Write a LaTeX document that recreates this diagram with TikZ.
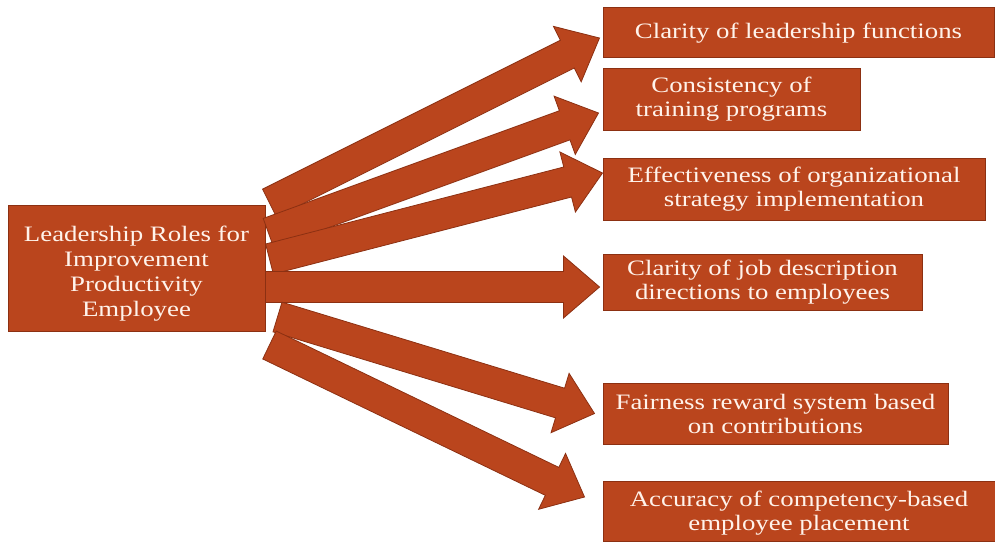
\documentclass[tikz,border=0pt]{standalone}
\usepackage{fontspec}
\setmainfont[FakeStretch=1.22]{Liberation Serif}
\usepackage{tikz}
\usepackage{xcolor}
\usetikzlibrary{calc,positioning}
\definecolor{rust}{RGB}{186, 69, 29}
\definecolor{rustdark}{RGB}{140, 48, 18}
\definecolor{cream}{RGB}{255, 243, 235}
\tikzstyle{role} = [
    rectangle,
    inner sep=0pt,
    align=center,
    draw=rustdark,
    line width=0.5pt,
    fill=rust,
    text=cream,
    font=\fontsize{11}{12}\selectfont
]
\tikzstyle{blockarrow} = [
    fill=rust,
    draw=rustdark,
    line width=0.4pt,
    line join=miter
]
% block arrow from #1 (tail) to #2 (tip)
\newcommand{\blockarrow}[2]{%
    \path ($(#2)!18pt!(#1)$) coordinate (hb);
    \draw[blockarrow] ($(#1)!7.75pt!90:(#2)$) -- ($(hb)!7.75pt!90:(#2)$)
        -- ($(hb)!15.5pt!90:(#2)$) -- (#2) -- ($(hb)!15.5pt!-90:(#2)$)
        -- ($(hb)!7.75pt!-90:(#2)$) -- ($(#1)!7.75pt!-90:(#2)$) -- cycle;}

\begin{document}
\begin{tikzpicture}[x=0.5pt, y=-0.5pt]
    \useasboundingbox[fill=white] (0,0) rectangle (995,541);

    \node[role, minimum width=128.5pt, minimum height=63pt,
        font=\fontsize{11}{12.5}\selectfont] (lead) at (136.5,268)
        {\rule{0pt}{13pt}Leadership Roles for\\Improvement\\Productivity\\Employee};

    \node[role, minimum width=195.5pt, minimum height=25pt] (clar) at (798.5,32)
        {\rule{0pt}{9pt}Clarity of leadership functions};
    \node[role, minimum width=128.5pt, minimum height=31pt] (cons) at (731.5,99)
        {Consistency of\\training programs};
    \node[role, minimum width=191pt, minimum height=31pt] (eff) at (794,189)
        {Effectiveness of organizational\\strategy implementation};
    \node[role, minimum width=159.5pt, minimum height=28pt] (job) at (762.5,282)
        {Clarity of job description\\directions to employees};
    \node[role, minimum width=172.5pt, minimum height=30.5pt] (fair) at (775.5,413.5)
        {Fairness reward system based\\on contributions};
    \node[role, minimum width=196pt, minimum height=30pt] (acc) at (799,511)
        {\rule{0pt}{10pt}Accuracy of competency-based\\employee placement};

    % tails and tips of the arrows
    \coordinate (s1) at ($(lead.east)+(4,-65)$);
    \coordinate (s2) at ($(lead.east)+(3,-35)$);
    \coordinate (s3) at ($(lead.east)+(4,-9)$);
    \coordinate (s4) at ($(lead.east)+(0,19)$);
    \coordinate (s5) at ($(lead.east)+(12,49)$);
    \coordinate (s6) at ($(lead.east)+(4,77)$);
    \coordinate (t1) at ($(clar.west)+(-3,6)$);
    \coordinate (t2) at ($(cons.west)+(-4,14)$);
    \coordinate (t3) at ($(eff.west)+(0,-16)$);
    \coordinate (t4) at ($(job.west)+(-3,5)$);
    \coordinate (t5) at ($(fair.west)+(-8,0)$);
    \coordinate (t6) at ($(acc.west)+(-18,-14)$);

    \blockarrow{s1}{t1}
    \blockarrow{s2}{t2}
    \blockarrow{s3}{t3}
    \blockarrow{s4}{t4}
    \blockarrow{s5}{t5}
    \blockarrow{s6}{t6}
\end{tikzpicture}
\end{document}
